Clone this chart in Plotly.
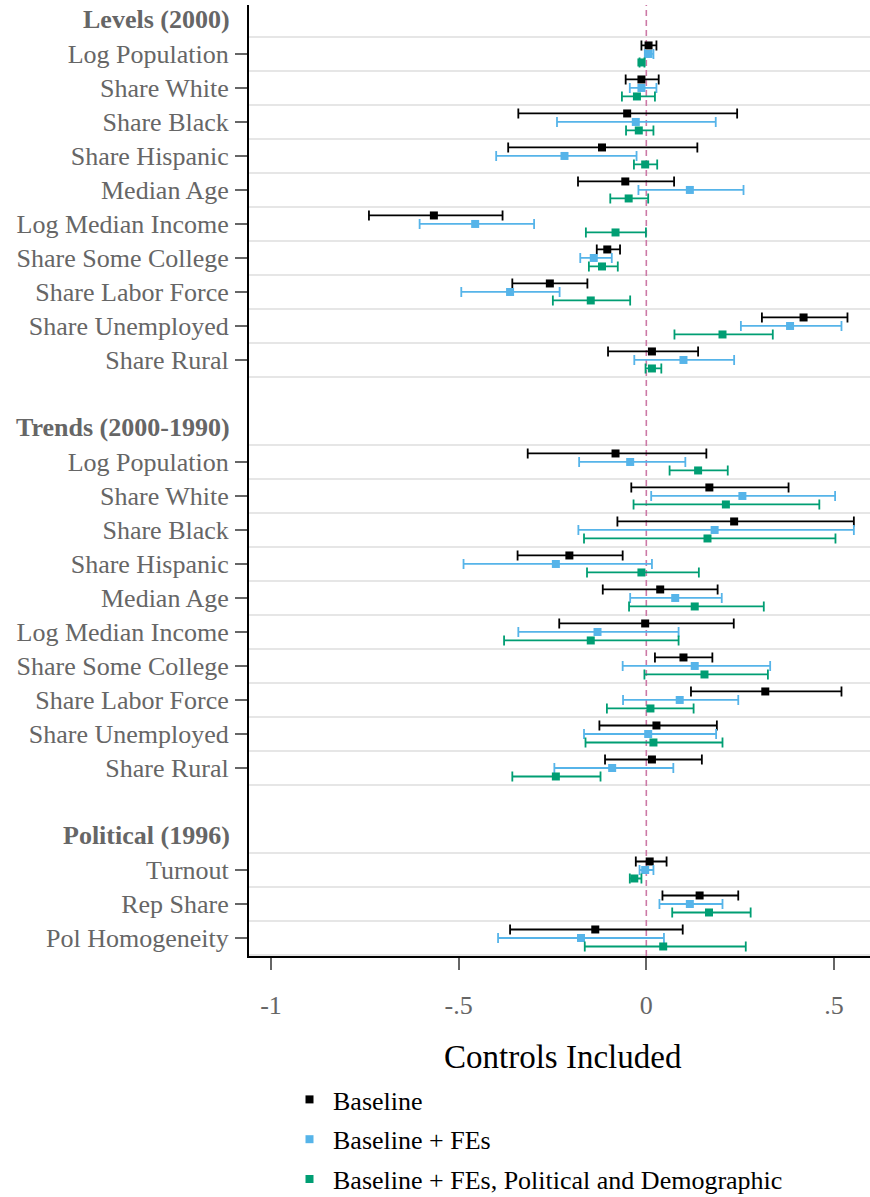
import plotly.graph_objects as go

# ---- categories -------------------------------------------------------------
group_titles = ["Levels (2000)", "Trends (2000-1990)", "Political (1996)"]
demo_vars = ["Log Population", "Share White", "Share Black", "Share Hispanic",
             "Median Age", "Log Median Income", "Share Some College",
             "Share Labor Force", "Share Unemployed", "Share Rural"]
political_vars = ["Turnout", "Rep Share", "Pol Homogeneity"]

# ---- estimates (levels 10, trends 10, political 3) ---------------------------
baseline_coef = [0.006, -0.013, -0.051, -0.118, -0.056, -0.566, -0.104, -0.257, 0.419, 0.015,
                 -0.082, 0.168, 0.234, -0.205, 0.037, -0.003, 0.099, 0.317, 0.027, 0.015,
                 0.009, 0.142, -0.136]
baseline_lo = [-0.013, -0.055, -0.341, -0.368, -0.182, -0.739, -0.132, -0.357, 0.308, -0.102,
               -0.316, -0.040, -0.077, -0.343, -0.116, -0.232, 0.023, 0.119, -0.125, -0.110,
               -0.028, 0.043, -0.363]
baseline_hi = [0.027, 0.033, 0.242, 0.136, 0.074, -0.383, -0.070, -0.157, 0.536, 0.138,
               0.160, 0.379, 0.553, -0.063, 0.190, 0.233, 0.176, 0.520, 0.188, 0.148,
               0.054, 0.245, 0.097]

fe_coef = [0.006, -0.013, -0.028, -0.218, 0.116, -0.456, -0.140, -0.363, 0.383, 0.099,
           -0.043, 0.256, 0.182, -0.241, 0.077, -0.130, 0.129, 0.089, 0.005, -0.091,
           -0.003, 0.116, -0.174]
fe_lo = [-0.004, -0.044, -0.238, -0.400, -0.021, -0.604, -0.176, -0.493, 0.252, -0.032,
         -0.179, 0.013, -0.181, -0.487, -0.043, -0.341, -0.063, -0.062, -0.166, -0.245,
         -0.018, 0.035, -0.395]
fe_hi = [0.019, 0.027, 0.185, -0.026, 0.259, -0.299, -0.092, -0.231, 0.520, 0.234,
         0.104, 0.503, 0.553, 0.015, 0.201, 0.086, 0.330, 0.245, 0.186, 0.072,
         0.019, 0.203, 0.047]

full_coef = [-0.013, -0.025, -0.020, -0.003, -0.047, -0.082, -0.118, -0.148, 0.203, 0.015,
             0.138, 0.212, 0.163, -0.013, 0.129, -0.148, 0.155, 0.011, 0.019, -0.241,
             -0.032, 0.167, 0.045]
full_lo = [-0.018, -0.065, -0.054, -0.033, -0.096, -0.161, -0.153, -0.249, 0.075, -0.002,
           0.062, -0.034, -0.166, -0.158, -0.046, -0.379, -0.005, -0.105, -0.162, -0.357,
           -0.044, 0.069, -0.164]
full_hi = [-0.005, 0.023, 0.019, 0.029, 0.005, -0.001, -0.076, -0.043, 0.337, 0.040,
           0.217, 0.461, 0.504, 0.140, 0.313, 0.086, 0.324, 0.126, 0.203, -0.122,
           -0.013, 0.278, 0.265]

x_tickvals = [-1, -0.5, 0, 0.5]
x_ticktext = ["-1", "-.5", "0", ".5"]

series = [
    ("Baseline", "#000000", baseline_coef, baseline_lo, baseline_hi, -0.25),
    ("Baseline + FEs", "#56B4E9", fe_coef, fe_lo, fe_hi, 0.0),
    ("Baseline + FEs, Political and Demographic", "#009E73", full_coef, full_lo, full_hi, 0.25),
]

# ---- row layout: header, items, blank spacer, next header ... -----------------
groups = [demo_vars, demo_vars, political_vars]
item_rows, item_labels, header_rows, group_spans = [], [], [], []
row = 0
for gi, items in enumerate(groups):
    header_rows.append(row)
    first = row
    row += 1
    for name in items:
        item_rows.append(row)
        item_labels.append(name)
        row += 1
    group_spans.append((first, row - 1))
    row += 1  # spacer

FONT = "Liberation Serif, Times New Roman, serif"
GRAY = "#666666"
W, H = 870, 1197
ML, MR, MT, MB = 249, 0, 5, 241
plot_h = H - MT - MB

fig = go.Figure()
for name, color, coef, lo, hi, off in series:
    fig.add_trace(go.Scatter(
        x=coef,
        y=[r + off for r in item_rows],
        mode="markers",
        name=name,
        legendgroup=name,
        marker=dict(symbol="square", size=8, color=color),
        error_x=dict(type="data", symmetric=False,
                     array=[h - c for h, c in zip(hi, coef)],
                     arrayminus=[c - l for c, l in zip(coef, lo)],
                     color=color, thickness=1.8, width=5),
        showlegend=True,
    ))

shapes = []
# light separators between rows within each group
for first, last in group_spans:
    for k in range(first, last + 1):
        shapes.append(dict(type="line", xref="paper", x0=0, x1=1, yref="y",
                           y0=k + 0.5, y1=k + 0.5,
                           line=dict(color="#e6e6e6", width=2), layer="below"))
# reference line at zero
shapes.append(dict(type="line", xref="x", x0=0, x1=0, yref="paper", y0=0, y1=1,
                   line=dict(color="#CC79A7", width=1.6, dash="6px,4px"), layer="below"))

annotations = []
for title, r in zip(group_titles, header_rows):
    annotations.append(dict(text="<b>" + title + "</b>", xref="paper", x=0, xanchor="right",
                            xshift=-17, yref="y", y=r, yanchor="middle", showarrow=False,
                            font=dict(family=FONT, size=26, color=GRAY)))
annotations.append(dict(text="Controls Included", xref="paper", x=(563 - ML) / (W - ML - MR),
                        xanchor="center", yref="paper", y=-(1057 - (H - MB)) / plot_h,
                        yanchor="middle", showarrow=False,
                        font=dict(family=FONT, size=33, color="#000000")))

fig.update_layout(
    width=W, height=H,
    margin=dict(l=ML, r=MR, t=MT, b=MB, autoexpand=False),
    paper_bgcolor="white", plot_bgcolor="white",
    font=dict(family=FONT, size=26, color=GRAY),
    shapes=shapes,
    annotations=annotations,
    legend=dict(xref="container", yref="container",
                x=286 / W, xanchor="left", y=1 - 1076 / H, yanchor="top",
                itemwidth=37,
                font=dict(family=FONT, size=26, color="#000000"),
                tracegroupgap=3, bgcolor="rgba(0,0,0,0)"),
    xaxis=dict(range=[-1.0586, 0.596], tickvals=x_tickvals, ticktext=x_ticktext,
               showgrid=False, zeroline=False, showline=True, linecolor="#000000",
               linewidth=2, ticks="outside", ticklen=12, tickwidth=2, tickcolor=GRAY,
               tickfont=dict(family=FONT, size=26, color=GRAY), ticklabelstandoff=13),
    yaxis=dict(range=[27.53, -0.44], tickvals=item_rows, ticktext=item_labels,
               showgrid=False, zeroline=False, showline=True, linecolor="#000000",
               linewidth=2, ticks="outside", ticklen=12, tickwidth=1.5, tickcolor=GRAY,
               tickfont=dict(family=FONT, size=26, color=GRAY), ticklabelstandoff=1),
)

fig.write_html("out.html")
